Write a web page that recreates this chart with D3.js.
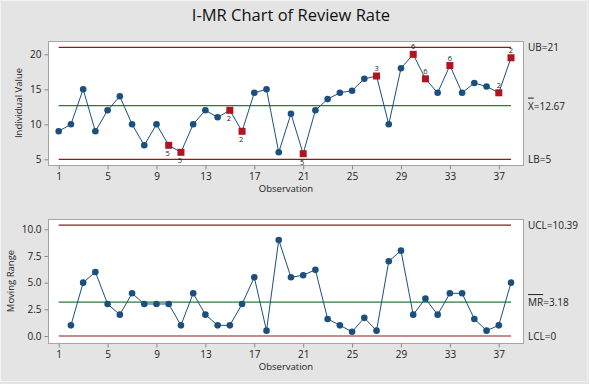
<!DOCTYPE html>
<html>
<head>
<meta charset="utf-8">
<script src="https://cdn.jsdelivr.net/npm/d3@7"></script>
<style>
  body { margin: 0; background: #e4e4e4; }
  text { font-family: "Open Sans", "DejaVu Sans", sans-serif; }
</style>
</head>
<body>
<script>
// observations 1..38
var observations = d3.range(1, 39);

// individual values
var individualValues = [9, 10, 15, 9, 12, 14, 10, 7, 10, 7,
  6, 10, 12, 11, 12, 9, 14.5, 15, 6, 11.5,
  5.8, 12, 13.6, 14.5, 14.8, 16.5, 16.9, 10, 18, 20,
  16.5, 14.5, 18.4, 14.5, 15.9, 15.4, 14.5, 19.5];

// moving ranges (first observation has none)
var movingRanges = [null, 1, 5, 6, 3, 2, 4, 3, 3, 3,
  1, 4, 2, 1, 1, 3, 5.5, 0.5, 9, 5.5,
  5.7, 6.2, 1.6, 1, 0.4, 1.7, 0.5, 7, 8, 2,
  3.5, 2, 4, 4, 1.6, 0.5, 1, 5];

// points flagged by the tests, with the test number shown next to them
var flaggedPoints = [
  { obs: 10, test: "5", pos: "below" },
  { obs: 11, test: "5", pos: "below" },
  { obs: 15, test: "2", pos: "below" },
  { obs: 16, test: "2", pos: "below" },
  { obs: 21, test: "5", pos: "below" },
  { obs: 27, test: "3", pos: "above" },
  { obs: 30, test: "6", pos: "above" },
  { obs: 31, test: "6", pos: "above" },
  { obs: 33, test: "6", pos: "above" },
  { obs: 37, test: "2", pos: "above" },
  { obs: 38, test: "2", pos: "above" }
];

var xTicks = [1, 5, 9, 13, 17, 21, 25, 29, 33, 37];
var iTicks = [5, 10, 15, 20];
var mrTicks = [0, 2.5, 5, 7.5, 10];

var iLimits = { upper: 21, center: 12.67, lower: 5 };
var iLabels = { upper: "UB=21", center: "=12.67", lower: "LB=5" };
var mrLimits = { upper: 10.39, center: 3.18, lower: 0 };
var mrLabels = { upper: "UCL=10.39", center: "=3.18", lower: "LCL=0" };

var width = 589, height = 384;
var blue = "#1b4f7e", red = "#b0141e", limitRed = "#8a1c1c", green = "#2a7a3a";

var svg = d3.select("body").append("svg")
  .attr("width", width)
  .attr("height", height);

svg.append("rect")
  .attr("x", 0.5).attr("y", 0.5)
  .attr("width", width - 2).attr("height", height - 3)
  .attr("fill", "#e4e4e4")
  .attr("stroke", "#f2f2f2");

svg.append("text")
  .attr("x", 291).attr("y", 21)
  .attr("text-anchor", "middle")
  .style("font-size", "16.5px")
  .attr("fill", "#111")
  .text("I-MR Chart of Review Rate");

var x = d3.scaleLinear().domain([1, 38]).range([58.7, 511]);

function panel(opts) {
  var g = svg.append("g");
  var y = opts.y;

  g.append("rect")
    .attr("x", 48.5).attr("y", opts.top + 0.5)
    .attr("width", 475).attr("height", opts.bottom - opts.top)
    .attr("fill", "#fff")
    .attr("stroke", "#a5a5a5");

  // x axis
  var xa = g.append("g")
    .attr("transform", "translate(0," + (opts.bottom + 0.5) + ")")
    .call(d3.axisBottom(x).tickValues(xTicks).tickSize(4).tickPadding(3));
  xa.select(".domain").remove();

  // y axis
  var ya = g.append("g")
    .attr("transform", "translate(48.5,0)")
    .call(d3.axisLeft(y).tickValues(opts.yTicks).tickSize(4).tickPadding(3)
      .tickFormat(opts.fmt));
  ya.select(".domain").remove();

  g.selectAll(".tick line").attr("stroke", "#8a8a8a");
  g.selectAll(".tick text")
    .attr("fill", "#222")
    .style("font-size", "10px")
    .style("font-family", "'Open Sans', 'DejaVu Sans', sans-serif");

  g.append("text")
    .attr("x", 286).attr("y", opts.bottom + 27)
    .attr("text-anchor", "middle")
    .style("font-size", "9.5px")
    .attr("fill", "#222")
    .text("Observation");

  g.append("text")
    .attr("transform", "translate(" + opts.yLabelX + "," + ((opts.top + opts.bottom) / 2) + ") rotate(-90)")
    .attr("text-anchor", "middle")
    .style("font-size", "9.5px")
    .attr("fill", "#222")
    .text(opts.yLabel);

  // limit lines
  var lines = [
    { v: opts.limits.upper, c: limitRed, label: opts.labels.upper },
    { v: opts.limits.center, c: green, label: opts.labels.center, bar: opts.barText },
    { v: opts.limits.lower, c: limitRed, label: opts.labels.lower }
  ];
  lines.forEach(function(l) {
    g.append("line")
      .attr("x1", x(1)).attr("x2", x(38))
      .attr("y1", y(l.v)).attr("y2", y(l.v))
      .attr("stroke", l.c).attr("stroke-width", 1.2);
    var t = g.append("text")
      .attr("x", 528).attr("y", y(l.v) + 4)
      .style("font-size", "10px")
      .attr("fill", "#222");
    if (l.bar) {
      t.append("tspan").style("text-decoration", "overline").text(l.bar);
    }
    t.append("tspan").text(l.label);
  });

  // series
  var pts = observations.map(function(o, i) { return { obs: o, v: opts.values[i] }; })
    .filter(function(d) { return d.v !== null; });

  var line = d3.line()
    .x(function(d) { return x(d.obs); })
    .y(function(d) { return y(d.v); });

  g.append("path")
    .attr("d", line(pts))
    .attr("fill", "none")
    .attr("stroke", blue)
    .attr("stroke-width", 1);

  var flaggedObs = opts.flags.map(function(f) { return f.obs; });

  g.selectAll("circle")
    .data(pts.filter(function(d) { return flaggedObs.indexOf(d.obs) < 0; }))
    .enter().append("circle")
    .attr("cx", function(d) { return x(d.obs); })
    .attr("cy", function(d) { return y(d.v); })
    .attr("r", 3.3)
    .attr("fill", blue);

  opts.flags.forEach(function(f) {
    var v = opts.values[f.obs - 1];
    g.append("rect")
      .attr("x", x(f.obs) - 3.5).attr("y", y(v) - 3.5)
      .attr("width", 7).attr("height", 7)
      .attr("fill", red);
    g.append("text")
      .attr("x", x(f.obs) + (f.pos === "below" ? -1 : 0))
      .attr("y", f.pos === "below" ? y(v) + 11 : y(v) - 5)
      .attr("text-anchor", "middle")
      .style("font-size", "7.5px")
      .attr("fill", "#222")
      .text(f.test);
  });
}

panel({
  top: 41, bottom: 165,
  y: d3.scaleLinear().domain([5, 20]).range([159.3, 54.3]),
  yTicks: iTicks, fmt: d3.format("d"),
  yLabel: "Individual Value", yLabelX: 22,
  values: individualValues,
  limits: iLimits, labels: iLabels, barText: "X",
  flags: flaggedPoints
});

panel({
  top: 219, bottom: 343,
  y: d3.scaleLinear().domain([0, 10]).range([336, 229.3]),
  yTicks: mrTicks, fmt: d3.format(".1f"),
  yLabel: "Moving Range", yLabelX: 14,
  values: movingRanges,
  limits: mrLimits, labels: mrLabels, barText: "MR",
  flags: []
});
</script>
</body>
</html>
